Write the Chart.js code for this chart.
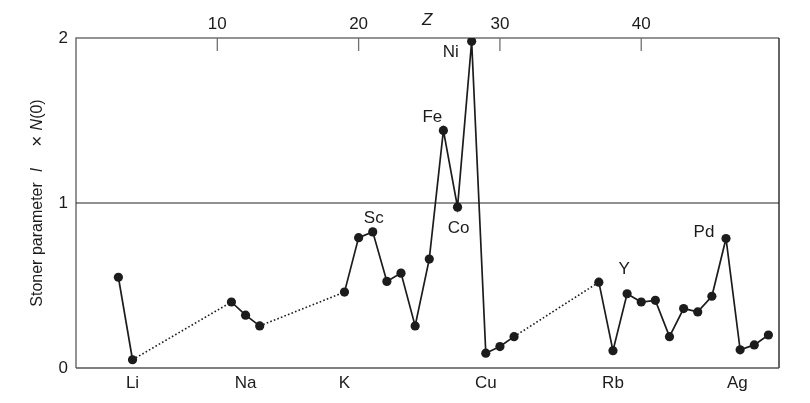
<!DOCTYPE html>
<html>
<head>
<meta charset="utf-8">
<script src="https://cdn.jsdelivr.net/npm/chart.js@4/dist/chart.umd.min.js"></script>
<style>
  html, body { margin: 0; padding: 0; background: #fff; }
  #wrap { width: 810px; height: 403px; position: relative; }
</style>
</head>
<body>
<div id="wrap"><canvas id="c"></canvas></div>
<script>
// Atomic number Z and Stoner parameter I x N(0)
const atomicZ = [3, 4, 11, 12, 13, 19, 20, 21, 22, 23, 24, 25, 26, 27, 28, 29, 30, 31,
                 37, 38, 39, 40, 41, 42, 43, 44, 45, 46, 47, 48, 49];
const stonerValues = [0.55, 0.05, 0.40, 0.32, 0.255, 0.46, 0.79, 0.825, 0.525, 0.575, 0.255, 0.66, 1.44, 0.975, 1.98, 0.09, 0.13, 0.19,
                      0.52, 0.105, 0.45, 0.40, 0.41, 0.19, 0.36, 0.34, 0.435, 0.785, 0.11, 0.14, 0.20];
// bottom axis: element symbols and where they sit on the Z axis
const bottomTickZ = [4, 12, 19, 29, 38, 46.8];
const bottomTickLabels = ['Li', 'Na', 'K', 'Cu', 'Rb', 'Ag'];
// top axis Z ticks
const topTicks = [10, 20, 30, 40];
// y axis ticks
const yTicks = [0, 1, 2];
// labelled points
const annotZ = [28, 26, 21, 27, 39, 46];
const annotText = ['Ni', 'Fe', 'Sc', 'Co', 'Y', 'Pd'];

const FONT = '"Liberation Sans", Arial, Helvetica, sans-serif';
const INK = '#1c1c1c';
const annotOffsets = {Ni: [-21, 11], Fe: [-11, -13], Sc: [1, -14], Co: [1, 21], Y: [-3, -24], Pd: [-22, -6]};

const decor = {
  id: 'decor',
  beforeDatasetsDraw(chart) {
    const {ctx, chartArea: a, scales} = chart;
    ctx.save();
    // frame
    ctx.lineWidth = 1.5;
    ctx.strokeStyle = '#707070';
    ctx.beginPath(); ctx.moveTo(a.left, a.bottom); ctx.lineTo(a.left, a.top); ctx.lineTo(a.right, a.top); ctx.stroke();
    ctx.strokeStyle = '#333';
    ctx.beginPath(); ctx.moveTo(a.right, a.top); ctx.lineTo(a.right, a.bottom); ctx.stroke();
    ctx.strokeStyle = '#555';
    ctx.beginPath(); ctx.moveTo(a.left, a.bottom); ctx.lineTo(a.right, a.bottom); ctx.stroke();
    // inward ticks on top axis
    ctx.strokeStyle = '#707070';
    ctx.lineWidth = 1.3;
    topTicks.forEach(t => {
      const x = scales.x2.getPixelForValue(t);
      ctx.beginPath(); ctx.moveTo(x, a.top); ctx.lineTo(x, a.top + 13); ctx.stroke();
    });
    // reference line at 1
    const y1 = scales.y.getPixelForValue(1);
    ctx.strokeStyle = '#222';
    ctx.lineWidth = 1.2;
    ctx.beginPath(); ctx.moveTo(a.left, y1); ctx.lineTo(a.right, y1); ctx.stroke();
    ctx.restore();
  },
  afterDraw(chart) {
    const {ctx, chartArea: a, scales} = chart;
    ctx.save();
    ctx.fillStyle = INK;
    ctx.textAlign = 'center';
    ctx.textBaseline = 'middle';
    // point labels
    ctx.font = '17px ' + FONT;
    annotZ.forEach((z, i) => {
      const idx = atomicZ.indexOf(z);
      const x = scales.x.getPixelForValue(z);
      const y = scales.y.getPixelForValue(stonerValues[idx]);
      const off = annotOffsets[annotText[i]];
      ctx.fillText(annotText[i], x + off[0], y + off[1]);
    });
    // Z title
    ctx.font = 'italic 17px ' + FONT;
    ctx.fillText('Z', scales.x2.getPixelForValue(24.85), 20);
    // y title with mixed italics and wide gaps
    const parts = [['Stoner parameter', '', 10], ['I', 'italic ', 21], ['\u00d7', '', 7], ['N', 'italic ', 0], ['(0)', '', 0]];
    let total = 0;
    parts.forEach(p => { ctx.font = p[1] + '16px ' + FONT; total += ctx.measureText(p[0]).width + p[2]; });
    const cy = scales.y.getPixelForValue(1);
    ctx.translate(38, cy);
    ctx.rotate(-Math.PI / 2);
    ctx.textAlign = 'left';
    let x = -total / 2;
    parts.forEach(p => {
      const size = p[0] === '\u00d7' ? 19 : 16;
      ctx.font = p[1] + size + 'px ' + FONT;
      ctx.fillText(p[0], x, 0);
      ctx.font = p[1] + '16px ' + FONT;
      x += ctx.measureText(p[0]).width + p[2];
    });
    ctx.restore();
  }
};

new Chart(document.getElementById('c'), {
  type: 'line',
  data: {
    datasets: [{
      data: atomicZ.map((z, i) => ({x: z, y: stonerValues[i]})),
      borderColor: INK,
      backgroundColor: INK,
      borderWidth: 1.7,
      pointRadius: 4.6,
      pointBackgroundColor: INK,
      pointBorderWidth: 0,
      tension: 0,
      segment: {
        borderDash: c => (c.p1.parsed.x - c.p0.parsed.x > 1 ? [1.6, 2.2] : undefined),
        borderWidth: c => (c.p1.parsed.x - c.p0.parsed.x > 1 ? 1.6 : 1.7)
      }
    }]
  },
  options: {
    responsive: true,
    maintainAspectRatio: false,
    animation: false,
    layout: {padding: {left: 0, right: 31, top: 0, bottom: 0}},
    plugins: {legend: {display: false}, tooltip: {enabled: false}},
    scales: {
      x: {
        type: 'linear', position: 'bottom', min: 0, max: 49.75,
        afterBuildTicks: s => { s.ticks = bottomTickZ.map(v => ({value: v})); },
        afterFit: s => { s.height = 35; },
        grid: {display: false, drawTicks: false},
        border: {display: false},
        ticks: {
          autoSkip: false, maxRotation: 0, padding: 5,
          color: INK, font: {family: FONT, size: 17},
          callback: (v, i) => bottomTickLabels[i]
        }
      },
      x2: {
        type: 'linear', position: 'top', min: 0, max: 49.75,
        afterBuildTicks: s => { s.ticks = topTicks.map(v => ({value: v})); },
        afterFit: s => { s.height = 38; },
        grid: {display: false, drawTicks: false},
        border: {display: false},
        ticks: {autoSkip: false, maxRotation: 0, padding: 3, color: INK, font: {family: FONT, size: 17}}
      },
      y: {
        min: 0, max: 2,
        afterBuildTicks: s => { s.ticks = yTicks.map(v => ({value: v})); },
        afterFit: s => { s.width = 76; },
        grid: {display: false, drawTicks: false},
        border: {display: false},
        ticks: {padding: 8, color: INK, font: {family: FONT, size: 17}}
      }
    }
  },
  plugins: [decor]
});
</script>
</body>
</html>
